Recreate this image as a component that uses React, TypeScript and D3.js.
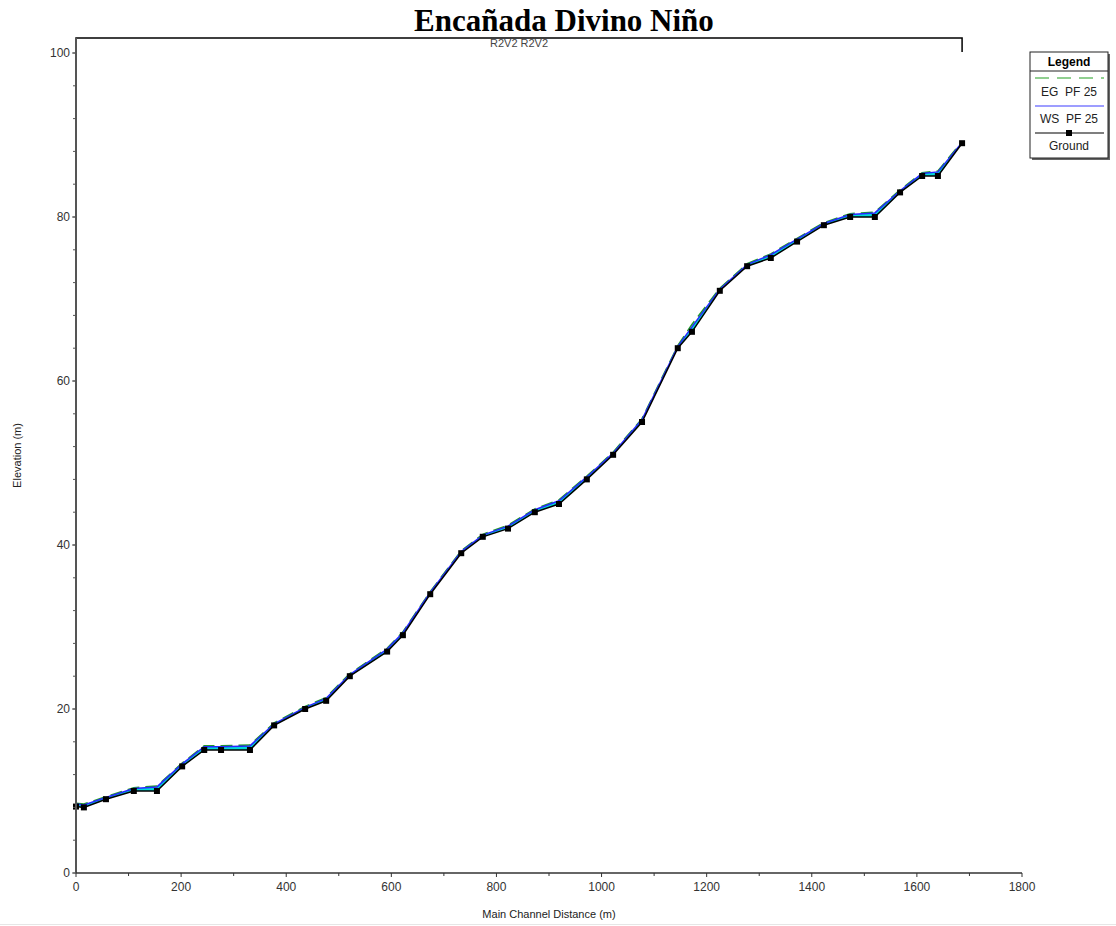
import { useEffect, useRef } from "react";
import * as d3 from "d3";

// main channel distance (m) of each cross section
const stations = [
  0, 15, 57, 110, 154, 202, 244, 276, 331, 377, 436, 476, 521, 592, 622, 674,
  733, 774, 822, 873, 919, 972, 1022, 1077, 1145, 1172, 1225, 1277, 1322, 1372,
  1423, 1473, 1520, 1568, 1610, 1640, 1686,
];

const ground = [
  8.1, 8, 9, 10, 10, 13, 15, 15, 15, 18, 20, 21, 24, 27, 29, 34, 39, 41, 42,
  44, 45, 48, 51, 55, 64, 66, 71, 74, 75, 77, 79, 80, 80, 83, 85, 85, 89,
];

const wsPF25 = [
  8.4, 8.3, 9.2, 10.3, 10.5, 13.3, 15.4, 15.4, 15.5, 18.2, 20.2, 21.3, 24.2,
  27.3, 29.3, 34.2, 39.2, 41.2, 42.3, 44.3, 45.4, 48.3, 51.2, 55.3, 64.2, 66.6,
  71.2, 74.2, 75.4, 77.3, 79.2, 80.3, 80.5, 83.2, 85.3, 85.5, 89.1,
];

const egPF25 = [
  8.5, 8.4, 9.3, 10.4, 10.6, 13.4, 15.5, 15.5, 15.6, 18.3, 20.3, 21.4, 24.3,
  27.4, 29.4, 34.3, 39.3, 41.3, 42.4, 44.4, 45.5, 48.4, 51.3, 55.4, 64.3, 66.9,
  71.3, 74.3, 75.5, 77.4, 79.3, 80.4, 80.6, 83.3, 85.4, 85.6, 89.2,
];

const xTicks = [0, 200, 400, 600, 800, 1000, 1200, 1400, 1600, 1800];
const yTicks = [0, 20, 40, 60, 80, 100];

const reachLabel = "R2V2 R2V2";
const legendItems = ["EG  PF 25", "WS  PF 25", "Ground"];

const W = 1116;
const H = 926;
const FONT = "Liberation Sans, Arial, sans-serif";

export default function App() {
  const ref = useRef<SVGSVGElement | null>(null);

  useEffect(() => {
    if (!ref.current) return;
    const svg = d3.select(ref.current);
    svg.selectAll("*").remove();

    const m = { l: 76, r: 1022, t: 38, b: 873 };
    const x = d3.scaleLinear().domain([0, 1800]).range([m.l, m.r]);
    const y = d3.scaleLinear().domain([0, 100]).range([m.b, 53]);

    const idx = d3.range(stations.length);

    // ── Title ───────────────────────────────────────────────────────────────
    svg
      .append("text")
      .attr("x", 564)
      .attr("y", 31)
      .attr("text-anchor", "middle")
      .attr("font-family", "Liberation Serif, Times New Roman, serif")
      .attr("font-weight", "bold")
      .attr("font-size", 31)
      .attr("fill", "#000")
      .text("Encañada Divino Niño");

    // ── Water fill between ground and WS ────────────────────────────────────
    const area = d3
      .area<number>()
      .x((i) => x(stations[i]))
      .y0((i) => y(ground[i]))
      .y1((i) => y(wsPF25[i]));
    svg
      .append("path")
      .attr("d", area(idx))
      .attr("fill", "#00d8d8");

    const line = (vals: number[]) =>
      d3
        .line<number>()
        .x((i) => x(stations[i]))
        .y((i) => y(vals[i]))(idx);

    svg
      .append("path")
      .attr("d", line(egPF25))
      .attr("fill", "none")
      .attr("stroke", "#1f9a2a")
      .attr("stroke-width", 1.6)
      .attr("stroke-dasharray", "12 6");

    svg
      .append("path")
      .attr("d", line(wsPF25))
      .attr("fill", "none")
      .attr("stroke", "#2828ff")
      .attr("stroke-width", 1.5);

    svg
      .append("path")
      .attr("d", line(ground))
      .attr("fill", "none")
      .attr("stroke", "#000")
      .attr("stroke-width", 1.5);

    svg
      .selectAll("rect.pt")
      .data(idx)
      .enter()
      .append("rect")
      .attr("class", "pt")
      .attr("x", (i) => x(stations[i]) - 3)
      .attr("y", (i) => y(ground[i]) - 3)
      .attr("width", 6)
      .attr("height", 6)
      .attr("fill", "#000");

    // ── Top reach line ──────────────────────────────────────────────────────
    const x0 = x(stations[0]);
    const x1 = x(stations[stations.length - 1]);
    svg
      .append("path")
      .attr("d", `M${x0},${m.t + 3}L${x0},${m.t}L${x1},${m.t}L${x1},${m.t + 14}`)
      .attr("fill", "none")
      .attr("stroke", "#000")
      .attr("stroke-width", 1.5);
    svg
      .append("text")
      .attr("x", x((stations[0] + stations[stations.length - 1]) / 2))
      .attr("y", m.t + 9)
      .attr("text-anchor", "middle")
      .attr("font-family", FONT)
      .attr("font-size", 11)
      .attr("fill", "#444")
      .text(reachLabel);

    // ── Axes ────────────────────────────────────────────────────────────────
    const axisColor = "#555";
    svg
      .append("line")
      .attr("x1", m.l)
      .attr("x2", m.l)
      .attr("y1", m.t)
      .attr("y2", m.b)
      .attr("stroke", axisColor)
      .attr("stroke-width", 2);
    svg
      .append("line")
      .attr("x1", m.l)
      .attr("x2", m.r)
      .attr("y1", m.b)
      .attr("y2", m.b)
      .attr("stroke", "#333")
      .attr("stroke-width", 1.5);

    // y ticks: minor every 4 m
    d3.range(0, 101, 4).forEach((v) => {
      svg
        .append("line")
        .attr("x1", m.l - 3)
        .attr("x2", m.l)
        .attr("y1", y(v))
        .attr("y2", y(v))
        .attr("stroke", axisColor)
        .attr("stroke-width", 1);
    });
    yTicks.forEach((v) => {
      svg
        .append("line")
        .attr("x1", m.l - 4)
        .attr("x2", m.l)
        .attr("y1", y(v))
        .attr("y2", y(v))
        .attr("stroke", axisColor)
        .attr("stroke-width", 1);
      svg
        .append("text")
        .attr("x", m.l - 6)
        .attr("y", y(v) + 4)
        .attr("text-anchor", "end")
        .attr("font-family", FONT)
        .attr("font-size", 12)
        .attr("fill", "#333")
        .text(v);
    });

    // x ticks: minor every 100 m
    d3.range(0, 1801, 100).forEach((v) => {
      svg
        .append("line")
        .attr("x1", x(v))
        .attr("x2", x(v))
        .attr("y1", m.b)
        .attr("y2", m.b + (v % 200 === 0 ? 4 : 3))
        .attr("stroke", "#333")
        .attr("stroke-width", 1);
    });
    xTicks.forEach((v) => {
      svg
        .append("text")
        .attr("x", x(v))
        .attr("y", m.b + 18)
        .attr("text-anchor", "middle")
        .attr("font-family", FONT)
        .attr("font-size", 12)
        .attr("fill", "#333")
        .text(v);
    });

    svg
      .append("text")
      .attr("x", 549)
      .attr("y", 918)
      .attr("text-anchor", "middle")
      .attr("font-family", FONT)
      .attr("font-size", 11)
      .attr("fill", "#222")
      .text("Main Channel Distance (m)");

    svg
      .append("text")
      .attr("transform", `translate(21,${(m.t + m.b) / 2}) rotate(-90)`)
      .attr("text-anchor", "middle")
      .attr("font-family", FONT)
      .attr("font-size", 11)
      .attr("fill", "#222")
      .text("Elevation (m)");

    // ── Legend ──────────────────────────────────────────────────────────────
    const lg = svg.append("g").attr("transform", "translate(1030,52)");
    const lw = 78;
    const lh = 106;
    lg.append("rect")
      .attr("x", 2)
      .attr("y", 2)
      .attr("width", lw)
      .attr("height", lh)
      .attr("fill", "#666");
    lg.append("rect")
      .attr("width", lw)
      .attr("height", lh)
      .attr("fill", "#fff")
      .attr("stroke", "#222")
      .attr("stroke-width", 1);
    lg.append("text")
      .attr("x", lw / 2)
      .attr("y", 14)
      .attr("text-anchor", "middle")
      .attr("font-family", FONT)
      .attr("font-weight", "bold")
      .attr("font-size", 12)
      .attr("fill", "#000")
      .text("Legend");
    lg.append("line")
      .attr("x1", 0)
      .attr("x2", lw)
      .attr("y1", 19)
      .attr("y2", 19)
      .attr("stroke", "#222");

    const sw = { x1: 5, x2: lw - 4 };
    lg.append("line")
      .attr("x1", sw.x1)
      .attr("x2", sw.x2)
      .attr("y1", 26)
      .attr("y2", 26)
      .attr("stroke", "#23a023")
      .attr("stroke-width", 1.2)
      .attr("stroke-dasharray", "14 8");
    lg.append("line")
      .attr("x1", sw.x1)
      .attr("x2", sw.x2)
      .attr("y1", 54)
      .attr("y2", 54)
      .attr("stroke", "#3c3cff")
      .attr("stroke-width", 1.2);
    lg.append("line")
      .attr("x1", sw.x1)
      .attr("x2", sw.x2)
      .attr("y1", 81)
      .attr("y2", 81)
      .attr("stroke", "#000")
      .attr("stroke-width", 1.2);
    lg.append("rect")
      .attr("x", lw / 2 - 3)
      .attr("y", 78)
      .attr("width", 6)
      .attr("height", 6)
      .attr("fill", "#000");

    legendItems.forEach((t, i) => {
      lg.append("text")
        .attr("x", lw / 2)
        .attr("y", 44 + i * 27)
        .attr("text-anchor", "middle")
        .attr("font-family", FONT)
        .attr("font-size", 12)
        .attr("fill", "#222")
        .attr("xml:space", "preserve")
        .style("white-space", "pre")
        .text(t);
    });

    // faint page edge at the bottom
    svg
      .append("line")
      .attr("x1", 0)
      .attr("x2", W)
      .attr("y1", 924.5)
      .attr("y2", 924.5)
      .attr("stroke", "#e6e6e6");
  }, []);

  return (
    <svg
      ref={ref}
      width={W}
      height={H}
      style={{ position: "absolute", left: 0, top: 0, background: "#fff" }}
    />
  );
}
